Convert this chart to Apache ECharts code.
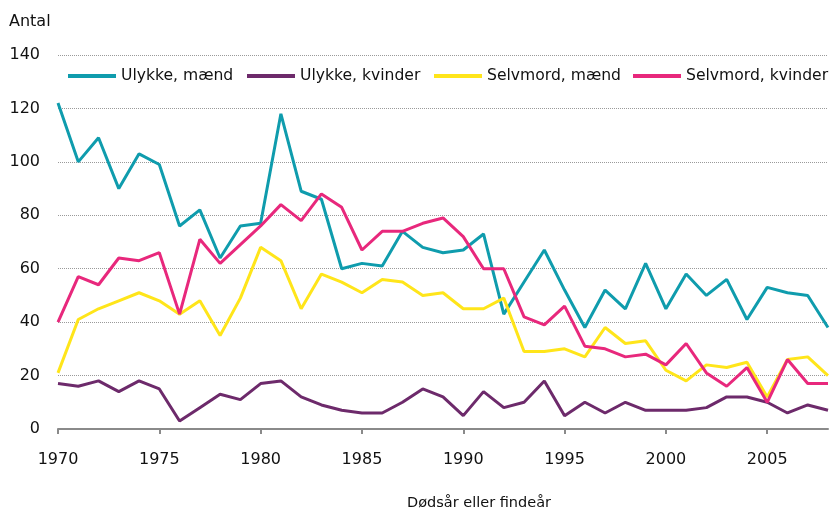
<!DOCTYPE html>
<html>
<head>
<meta charset="utf-8">
<script src="https://cdn.jsdelivr.net/npm/echarts@6/dist/echarts.min.js"></script>
<style>
  html, body { margin: 0; padding: 0; background: #fff; }
  #chart { width: 833px; height: 513px; }
</style>
</head>
<body>
<div id="chart"></div>
<script>
const years = [];
for (let y = 1970; y <= 2008; y++) years.push(String(y));

const ulykkeMaend = [122, 100, 109, 90, 103, 99, 76, 82, 64, 76, 77, 118, 89, 86, 60, 62, 61, 74, 68, 66, 67, 73, 43, 55, 67, 52, 38, 52, 45, 62, 45, 58, 50, 56, 41, 53, 51, 50, 38];
const ulykkeKvinder = [17, 16, 18, 14, 18, 15, 3, 8, 13, 11, 17, 18, 12, 9, 7, 6, 6, 10, 15, 12, 5, 14, 8, 10, 18, 5, 10, 6, 10, 7, 7, 7, 8, 12, 12, 10, 6, 9, 7];
const selvmordMaend = [21, 41, 45, 48, 51, 48, 43, 48, 35, 49, 68, 63, 45, 58, 55, 51, 56, 55, 50, 51, 45, 45, 49, 29, 29, 30, 27, 38, 32, 33, 22, 18, 24, 23, 25, 12, 26, 27, 20];
const selvmordKvinder = [40, 57, 54, 64, 63, 66, 43, 71, 62, 69, 76, 84, 78, 88, 83, 67, 74, 74, 77, 79, 72, 60, 60, 42, 39, 46, 31, 30, 27, 28, 24, 32, 21, 16, 23, 10, 26, 17, 17];

const seriesNames = ['Ulykke, mænd', 'Ulykke, kvinder', 'Selvmord, mænd', 'Selvmord, kvinder'];
const colors = ['#0f9cad', '#6d2a6b', '#ffe51a', '#e8287c'];

const font = '"DejaVu Sans", sans-serif';

const chart = echarts.init(document.getElementById('chart'));

function line (name, data) {
  return {
    name: name,
    type: 'line',
    data: data,
    symbol: 'none',
    lineStyle: { width: 3 },
    animation: false
  };
}

// one legend per item so each sits where it does in the original
const legendLefts = [63, 242, 429, 628];
const legends = seriesNames.map(function (name, i) {
  return {
    data: [name],
    left: legendLefts[i],
    top: 63,
    icon: 'rect',
    itemWidth: 48,
    itemHeight: 4,
    textStyle: { fontFamily: font, fontSize: 15.6, color: '#111' }
  };
});

chart.setOption({
  color: colors,
  textStyle: { fontFamily: font },
  title: {
    text: 'Antal',
    left: 4,
    top: 9,
    textStyle: { fontFamily: font, fontSize: 16, fontWeight: 'normal', color: '#111' }
  },
  legend: legends,
  grid: { left: 58, right: 5, top: 55, bottom: 84, outerBoundsMode: 'none' },
  xAxis: {
    type: 'category',
    data: years,
    boundaryGap: false,
    name: 'Dødsår eller findeår',
    nameLocation: 'middle',
    nameGap: 67,
    nameTextStyle: { fontFamily: font, fontSize: 14.5, color: '#111', padding: [0, 0, 0, 72] },
    axisLine: { lineStyle: { color: '#8a8a8a', width: 2 } },
    axisTick: {
      length: 5,
      interval: function (i) { return i % 5 === 0; },
      lineStyle: { color: '#8a8a8a', width: 2 }
    },
    axisLabel: {
      interval: function (i) { return i % 5 === 0; },
      margin: 23,
      fontFamily: font,
      fontSize: 16,
      color: '#111'
    }
  },
  yAxis: {
    type: 'value',
    min: 0,
    max: 140,
    interval: 20,
    axisLine: { show: false },
    axisTick: { show: false },
    axisLabel: { margin: 18, fontFamily: font, fontSize: 16, color: '#111' },
    splitLine: { lineStyle: { type: 'dotted', color: '#9a9a9a', width: 1 } }
  },
  series: [
    line(seriesNames[0], ulykkeMaend),
    line(seriesNames[1], ulykkeKvinder),
    line(seriesNames[2], selvmordMaend),
    line(seriesNames[3], selvmordKvinder)
  ]
});
</script>
</body>
</html>
